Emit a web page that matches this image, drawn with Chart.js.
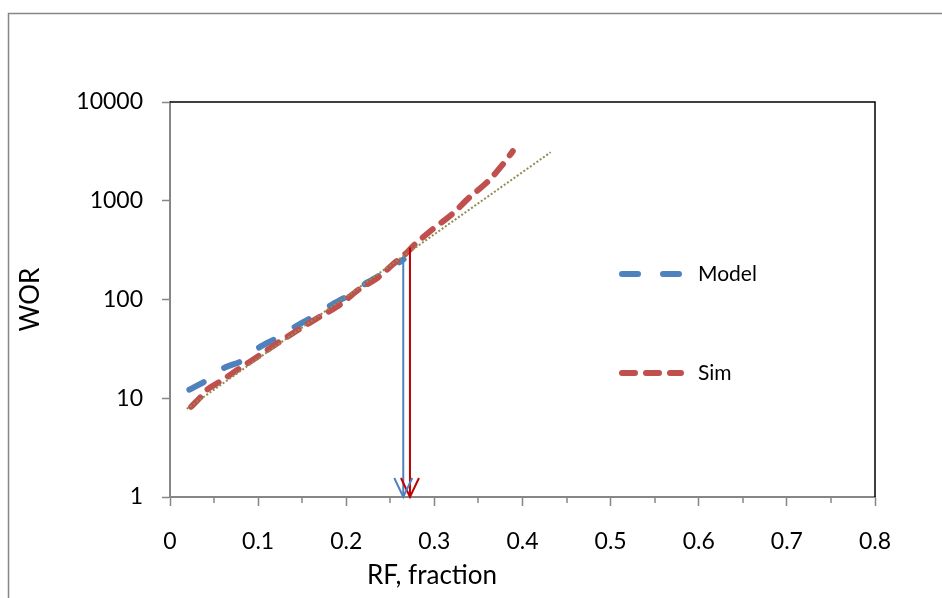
<!DOCTYPE html>
<html>
<head>
<meta charset="utf-8">
<script src="https://cdn.jsdelivr.net/npm/chart.js@4"></script>
<style>
  html, body { margin: 0; padding: 0; background: #fff; }
  #wrap { width: 942px; height: 598px; }
</style>
</head>
<body>
<div id="wrap"><canvas id="c" width="942" height="598"></canvas></div>
<script>
// Model curve (blue long dash)
const rfModel  = [0.022, 0.041, 0.062, 0.082, 0.101, 0.122, 0.142, 0.162, 0.184, 0.204, 0.224, 0.244, 0.265];
const worModel = [12.2, 15.1, 20.4, 24, 32.6, 41, 53, 67, 89, 112, 149, 188, 255];

// Sim curve (red short dash)
const rfSim  = [0.024, 0.034, 0.042, 0.055, 0.077, 0.101, 0.123, 0.146, 0.170, 0.193, 0.214, 0.236, 0.253, 0.269,
                0.278, 0.298, 0.320, 0.340, 0.360, 0.378, 0.389];
const worSim = [8.2, 10.1, 12.2, 14.4, 19.5, 27, 36.6, 49.6, 67, 89, 126, 167, 227, 300,
                362, 514, 730, 1086, 1542, 2350, 3180];

// exponential trend line (straight on log axis), two end points
const rfTrend  = [0.019, 0.432];
const worTrend = [7.8, 3100];

// vertical arrows: model end, sim crossing
const arrowRF  = [0.2647, 0.2723];
const arrowTop = [255, 337];
const arrowBottom = 1;

// axis ticks
const yTicks = [1, 10, 100, 1000, 10000];
const xTicks = [0, 0.1, 0.2, 0.3, 0.4, 0.5, 0.6, 0.7, 0.8];
const xMinor = [0.05, 0.15, 0.25, 0.35, 0.45, 0.55, 0.65, 0.75];

const BLUE = '#4F81BD';
const RED = '#C0504D';
const OLIVE = '#948A54';
const AXIS = '#868686';
const FONT = 'Lato, "Open Sans", sans-serif';

const pts = (xs, ys) => xs.map((x, i) => ({ x, y: ys[i] }));

const datasets = [
  {
    label: 'trend',
    data: pts(rfTrend, worTrend),
    borderColor: OLIVE,
    borderWidth: 2,
    borderDash: [2, 2],
    pointRadius: 0
  },
  {
    label: 'Sim',
    data: pts(rfSim, worSim),
    borderColor: RED,
    borderWidth: 6,
    borderDash: [13, 11],
    borderCapStyle: 'round',
    tension: 0.3,
    pointRadius: 0
  },
  {
    label: 'Model',
    data: pts(rfModel, worModel),
    borderColor: BLUE,
    borderWidth: 6,
    borderDash: [16, 25],
    borderCapStyle: 'round',
    tension: 0.3,
    pointRadius: 0
  }
];

const arrowColors = [BLUE, '#C00000'];
arrowRF.forEach((rf, i) => {
  datasets.unshift({
    label: 'arrow' + i,
    data: [{ x: rf, y: arrowTop[i] }, { x: rf, y: arrowBottom }],
    borderColor: arrowColors[i],
    borderWidth: 2,
    pointRadius: 0,
    arrow: true
  });
});

const legendItems = [
  { label: 'Model', color: BLUE, dash: [16, 25], y: 274 },
  { label: 'Sim', color: RED, dash: [13, 11], y: 373 }
];

const decorPlugin = {
  id: 'decor',
  beforeDraw(chart) {
    const ctx = chart.ctx;
    ctx.save();
    ctx.strokeStyle = AXIS;
    ctx.lineWidth = 1.5;
    ctx.strokeRect(8.5, 13.5, 1000, 1000);
    ctx.restore();
  },
  afterDatasetsDraw(chart) {
    const { ctx, chartArea: a, scales } = chart;
    ctx.save();
    // top and right plot border
    ctx.strokeStyle = '#000';
    ctx.lineWidth = 1.5;
    ctx.beginPath();
    ctx.moveTo(a.left, a.top);
    ctx.lineTo(a.right, a.top);
    ctx.lineTo(a.right, a.bottom);
    ctx.stroke();

    // minor x ticks
    ctx.strokeStyle = AXIS;
    ctx.lineWidth = 1.5;
    xMinor.forEach(v => {
      const px = Math.round(scales.x.getPixelForValue(v));
      ctx.beginPath();
      ctx.moveTo(px, a.bottom);
      ctx.lineTo(px, a.bottom + 6);
      ctx.stroke();
    });

    // arrow heads
    chart.data.datasets.forEach((ds, i) => {
      if (!ds.arrow) return;
      const meta = chart.getDatasetMeta(i);
      const p = meta.data[meta.data.length - 1];
      ctx.strokeStyle = ds.borderColor;
      ctx.lineWidth = 2;
      ctx.beginPath();
      ctx.moveTo(p.x - 9, p.y - 19);
      ctx.lineTo(p.x, p.y);
      ctx.lineTo(p.x + 9, p.y - 19);
      ctx.stroke();
    });

    // legend
    legendItems.forEach(it => {
      ctx.strokeStyle = it.color;
      ctx.lineWidth = 6;
      ctx.lineCap = 'round';
      ctx.setLineDash(it.dash);
      ctx.beginPath();
      ctx.moveTo(622, it.y);
      ctx.lineTo(681, it.y);
      ctx.stroke();
      ctx.setLineDash([]);
      ctx.fillStyle = '#000';
      ctx.font = '21px ' + FONT;
      ctx.textAlign = 'left';
      ctx.textBaseline = 'middle';
      ctx.fillText(it.label, 698, it.y);
    });

    // x axis title
    ctx.font = '26px ' + FONT;
    ctx.textAlign = 'center';
    ctx.textBaseline = 'middle';
    ctx.fillText('RF, fraction', 432, 576);
    ctx.restore();
  }
};

new Chart(document.getElementById('c'), {
  type: 'line',
  data: { datasets },
  options: {
    responsive: false,
    animation: false,
    layout: { padding: { left: 0, top: 102, right: 67, bottom: 0 } },
    plugins: {
      legend: { display: false },
      tooltip: { enabled: false }
    },
    scales: {
      x: {
        type: 'linear',
        min: 0,
        max: 0.8,
        afterFit: s => { s.height = 101; },
        afterBuildTicks: s => { s.ticks = xTicks.map(v => ({ value: v })); },
        border: { color: AXIS, width: 2 },
        grid: { drawOnChartArea: false, tickLength: 9, tickColor: AXIS, tickWidth: 1.5 },
        ticks: {
          color: '#000',
          font: { family: FONT, size: 23 },
          padding: 22,
          maxRotation: 0,
          callback: v => String(v)
        }
      },
      y: {
        type: 'logarithmic',
        min: 1,
        max: 10000,
        afterFit: s => { s.width = 170; },
        afterBuildTicks: s => { s.ticks = yTicks.map(v => ({ value: v })); },
        border: { color: AXIS, width: 2 },
        grid: { drawOnChartArea: false, tickLength: 8, tickColor: AXIS, tickWidth: 1.5 },
        ticks: {
          color: '#000',
          font: { family: FONT, size: 23 },
          padding: 19,
          callback: v => String(v)
        },
        title: {
          display: true,
          text: 'WOR',
          color: '#000',
          font: { family: FONT, size: 26 },
          padding: { top: 15 }
        }
      }
    }
  },
  plugins: [decorPlugin]
});
</script>
</body>
</html>
